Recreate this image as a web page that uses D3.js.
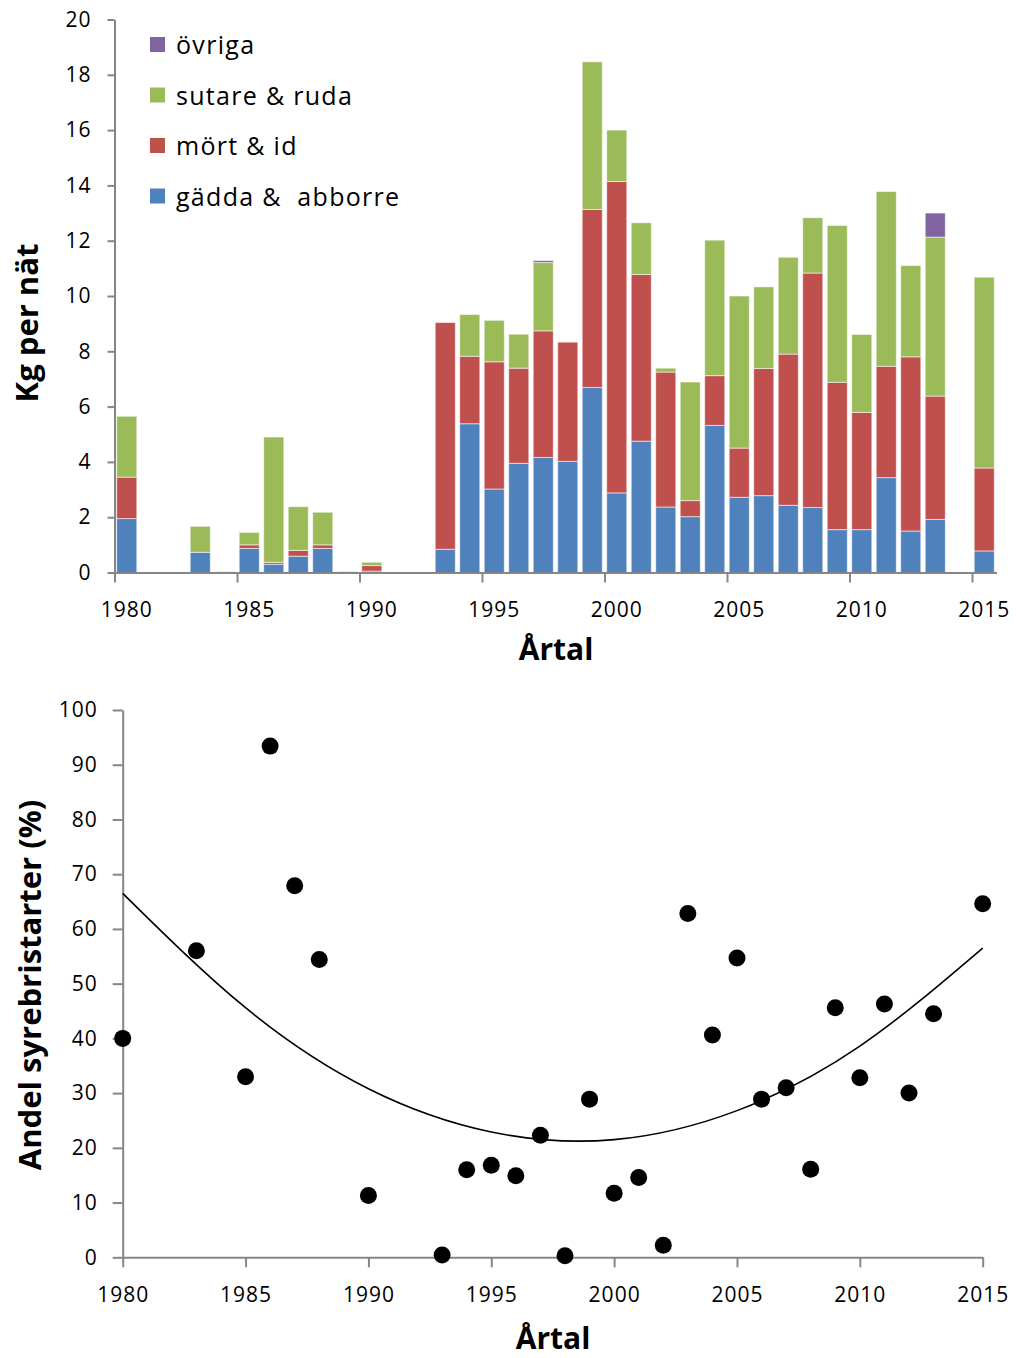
<!DOCTYPE html>
<html>
<head>
<meta charset="utf-8">
<script src="https://cdn.jsdelivr.net/npm/d3@7"></script>
<style>
  body { margin: 0; background: #fff; }
  svg { display: block; font-family: "Open Sans", "DejaVu Sans", sans-serif; }
</style>
</head>
<body>
<svg id="chart" width="1016" height="1358"></svg>
<script>
// --- top chart: catch per net, stacked by species group ---
var years = [1980,1981,1982,1983,1984,1985,1986,1987,1988,1989,1990,1991,1992,1993,1994,1995,1996,1997,
             1998,1999,2000,2001,2002,2003,2004,2005,2006,2007,2008,2009,2010,2011,2012,2013,2014,2015];
var gadda  = [1.95,0,0,0.73,0,0.87,0.30,0.59,0.87,0.03,0.05,0,0,0.84,5.38,3.02,3.95,4.16,
              4.02,6.69,2.88,4.75,2.37,2.02,5.32,2.72,2.78,2.43,2.35,1.55,1.55,3.43,1.50,1.92,0,0.78];
var mort   = [1.50,0,0,0,0,0.13,0.07,0.21,0.13,0,0.20,0,0,8.20,2.44,4.60,3.44,4.58,
              4.31,6.44,11.26,6.03,4.88,0.58,1.80,1.78,4.60,5.47,8.48,5.33,4.24,4.03,6.30,4.46,0,3.00];
var sutare = [2.20,0,0,0.94,0.03,0.45,4.53,1.58,1.18,0,0.12,0,0,0,1.51,1.50,1.23,2.47,
              0,5.34,1.86,1.87,0.14,4.29,4.90,5.50,2.95,3.50,2.00,5.67,2.82,6.32,3.30,5.75,0,6.90];
var ovriga = [0,0,0,0,0,0,0,0,0,0,0,0,0,0,0,0,0,0.07,
              0,0,0,0,0,0,0,0,0,0,0,0,0,0,0,0.87,0,0];
var seriesNames = ["gädda &  abborre", "mört & id", "sutare & ruda", "övriga"];
var seriesColors = ["#4F81BD", "#C0504D", "#9BBB59", "#8064A2"];
var xTicksTop = [1980,1985,1990,1995,2000,2005,2010,2015];
var yTicksTop = [0,2,4,6,8,10,12,14,16,18,20];

// --- bottom chart: share of oxygen-deficit starts ---
var scatYears = [1980,1983,1985,1986,1987,1988,1990,1993,1994,1995,1996,1997,1998,1999,2000,2001,
                 2002,2003,2004,2005,2006,2007,2008,2009,2010,2011,2012,2013,2015];
var scatVals  = [40,56,33,93.4,67.9,54.4,11.3,0.4,16.0,16.8,14.9,22.3,0.3,28.9,11.7,14.6,
                 2.2,62.8,40.6,54.7,28.9,31.0,16.1,45.6,32.8,46.3,30.0,44.5,64.6];
// trend line at 5-year steps
var trendYears = [1980,1985,1990,1995,2000,2005,2010,2015];
var trendVals  = [66.5,45.6,30.8,22.9,21.5,26.8,38.6,56.5];
var xTicksBot = [1980,1985,1990,1995,2000,2005,2010,2015];
var yTicksBot = [0,10,20,30,40,50,60,70,80,90,100];

var axisColor = "#868686";
var svg = d3.select("#chart");

/* Top chart */
var table = years.map(function(yr, i) {
  var row = {year: yr};
  row[seriesNames[0]] = gadda[i];
  row[seriesNames[1]] = mort[i];
  row[seriesNames[2]] = sutare[i];
  row[seriesNames[3]] = ovriga[i];
  return row;
});

var x = d3.scaleBand().domain(years).range([114.5, 996.5]).paddingInner(0.18).paddingOuter(0.09);
var xEdge = d3.scaleLinear().domain([1980, 2016]).range([114.5, 996.5]);
var y = d3.scaleLinear().domain([0, 20]).range([572.5, 19.5]);
var color = d3.scaleOrdinal().domain(seriesNames).range(seriesColors);

var gTop = svg.append("g");

var stacked = d3.stack().keys(seriesNames)(table);
gTop.append("g")
  .selectAll("g")
  .data(stacked)
  .enter().append("g")
    .attr("fill", function(d) { return color(d.key); })
  .selectAll("rect")
  .data(function(d) { return d.filter(function(s) { return s[1] - s[0] > 0; }); })
  .enter().append("rect")
    .attr("x", function(d) { return x(d.data.year); })
    .attr("y", function(d) { return y(d[1]); })
    .attr("height", function(d) { return Math.max(1, y(d[0]) - y(d[1])); })
    .attr("width", x.bandwidth())
    .attr("stroke", "#fff")
    .attr("stroke-opacity", 0.55)
    .attr("stroke-width", 1);

// x axis (ticks at category edges, labels in the band centre)
var gxTop = gTop.append("g")
  .attr("transform", "translate(0," + y(0) + ")")
  .call(d3.axisBottom(xEdge).tickValues(xTicksTop).tickFormat("").tickSize(10).tickSizeOuter(0));
gxTop.select(".domain").attr("stroke", axisColor).attr("stroke-width", 2);
gxTop.selectAll(".tick line").attr("stroke", axisColor).attr("stroke-width", 2);

gTop.append("g").selectAll("text")
  .data(xTicksTop)
  .enter().append("text")
    .attr("x", function(d) { return x(d) + x.bandwidth() / 2; })
    .attr("y", 617)
    .attr("text-anchor", "middle")
    .attr("font-size", 21)
    .attr("letter-spacing", 1)
    .text(function(d) { return d; });

var gyTop = gTop.append("g")
  .attr("transform", "translate(114.5,0)")
  .call(d3.axisLeft(y).tickValues(yTicksTop).tickSize(7).tickPadding(16).tickSizeOuter(0));
gyTop.select(".domain").attr("stroke", axisColor).attr("stroke-width", 2);
gyTop.selectAll(".tick line").attr("stroke", axisColor).attr("stroke-width", 2);
gyTop.selectAll(".tick text").attr("font-size", 21).attr("letter-spacing", 1)
  .attr("font-family", "Open Sans").attr("fill", "#000");

gTop.append("text")
  .attr("x", 556).attr("y", 660)
  .attr("text-anchor", "middle")
  .attr("font-size", 30).attr("font-weight", "bold")
  .text("Årtal");

gTop.append("text")
  .attr("transform", "translate(38,323) rotate(-90)")
  .attr("text-anchor", "middle")
  .attr("font-size", 31).attr("font-weight", "bold")
  .text("Kg per nät");

// legend, top to bottom in reverse stack order
var legend = gTop.append("g")
  .selectAll("g")
  .data(seriesNames.slice().reverse())
  .enter().append("g")
    .attr("transform", function(d, i) { return "translate(150," + (37 + i * 50.5) + ")"; });

legend.append("rect")
  .attr("width", 15).attr("height", 15)
  .attr("fill", color);

legend.append("text")
  .attr("x", 26).attr("y", 17)
  .attr("font-size", 25)
  .attr("letter-spacing", 1.3)
  .style("white-space", "pre")
  .text(function(d) { return d; });

/* Bottom chart */
var x2 = d3.scaleLinear().domain([1980, 2015]).range([122.7, 982.7]);
var y2 = d3.scaleLinear().domain([0, 100]).range([1257.3, 710]);

var gBot = svg.append("g");

var gxBot = gBot.append("g")
  .attr("transform", "translate(0," + y2(0) + ")")
  .call(d3.axisBottom(x2).tickValues(xTicksBot).tickSize(10).tickPadding(20).tickSizeOuter(0).tickFormat(d3.format("d")));
gxBot.select(".domain").attr("stroke", axisColor).attr("stroke-width", 2);
gxBot.selectAll(".tick line").attr("stroke", axisColor).attr("stroke-width", 2);
gxBot.selectAll(".tick text").attr("font-size", 21).attr("letter-spacing", 1)
  .attr("font-family", "Open Sans").attr("fill", "#000");

var gyBot = gBot.append("g")
  .attr("transform", "translate(" + x2(1980) + ",0)")
  .call(d3.axisLeft(y2).tickValues(yTicksBot).tickSize(10).tickPadding(15).tickSizeOuter(0));
gyBot.select(".domain").attr("stroke", axisColor).attr("stroke-width", 2);
gyBot.selectAll(".tick line").attr("stroke", axisColor).attr("stroke-width", 2);
gyBot.selectAll(".tick text").attr("font-size", 21).attr("letter-spacing", 1)
  .attr("font-family", "Open Sans").attr("fill", "#000");

var trend = trendYears.map(function(t, i) { return [t, trendVals[i]]; });
gBot.append("path")
  .datum(trend)
  .attr("fill", "none")
  .attr("stroke", "#000")
  .attr("stroke-width", 1.6)
  .attr("d", d3.line()
    .x(function(d) { return x2(d[0]); })
    .y(function(d) { return y2(d[1]); })
    .curve(d3.curveNatural));

gBot.append("g").selectAll("circle")
  .data(scatYears)
  .enter().append("circle")
    .attr("cx", function(d) { return x2(d); })
    .attr("cy", function(d, i) { return y2(scatVals[i]); })
    .attr("r", 8.5)
    .attr("fill", "#000");

gBot.append("text")
  .attr("x", 553).attr("y", 1349)
  .attr("text-anchor", "middle")
  .attr("font-size", 30).attr("font-weight", "bold")
  .text("Årtal");

gBot.append("text")
  .attr("transform", "translate(41,985) rotate(-90)")
  .attr("text-anchor", "middle")
  .attr("font-size", 31).attr("font-weight", "bold")
  .text("Andel syrebristarter (%)");
</script>
</body>
</html>
